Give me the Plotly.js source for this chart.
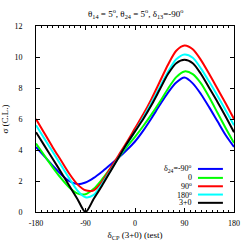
<!DOCTYPE html>
<html><head><meta charset="utf-8">
<script src="https://cdn.plot.ly/plotly-3.0.1.min.js"></script>
<style>html,body{margin:0;padding:0;background:#fff}#c{width:249px;height:249px}</style>
</head><body><div id="c"></div>
<script>
const deltaCP = [-180,-165,-150,-135,-120,-105,-90,-75,-60,-45,-30,-15,0,15,30,45,60,75,90,105,120,135,150,165,180];
const sigmaM90 = [4.2,3.6,3.0,2.45,2.0,1.8,1.9,2.2,2.6,3.05,3.5,4.0,4.55,5.25,6.05,6.9,7.7,8.35,8.67,8.3,7.6,6.75,5.85,4.95,4.2];
const sigma0   = [4.42,3.65,2.9,2.2,1.6,1.2,1.15,1.5,2.1,2.8,3.5,4.2,4.85,5.55,6.3,7.1,7.95,8.7,9.07,8.9,8.3,7.4,6.4,5.4,4.45];
const sigma90  = [6.0,5.1,4.2,3.35,2.5,1.8,1.4,1.4,1.95,2.8,3.65,4.5,5.4,6.3,7.3,8.4,9.5,10.4,10.74,10.5,9.8,8.9,7.95,7.0,6.0];
const sigma180 = [5.6,4.75,3.9,3.05,2.2,1.4,0.95,1.1,1.8,2.65,3.5,4.35,5.2,6.1,7.05,8.05,9.05,9.85,10.16,9.95,9.25,8.4,7.5,6.55,5.6];
const sigma30  = [5.15,4.3,3.45,2.6,1.72,0.86,0,0.85,1.7,2.6,3.5,4.4,5.2,6.0,6.9,7.9,8.9,9.6,9.82,9.6,8.9,8.0,7.1,6.15,5.15];
const seriesNames = ["δ<sub>24</sub>=-90<sup>o</sup>","0","90<sup>o</sup>","180<sup>o</sup>","3+0"];
const seriesColors = ["#0000ff","#00ff00","#ff0000","#00ffff","#000000"];
const seriesData = [sigmaM90, sigma0, sigma90, sigma180, sigma30];
const xTicks = [-180,-90,0,90,180];
const yTicks = [0,2,4,6,8,10,12];

const F = "Liberation Serif, Times New Roman, serif";
const traces = seriesData.map((y,i)=>({
  x: deltaCP, y: y, type:'scatter', mode:'lines', name: seriesNames[i],
  line:{color: seriesColors[i], width:2, shape:'spline', smoothing:0.8},
  showlegend:false, hoverinfo:'skip'
}));
const rows = [0.2316,0.1834,0.1383,0.0938,0.0493];
const annotations = [{
  text:"θ<sub>14</sub> = 5<sup>o</sup>, θ<sub>24</sub> = 5<sup>o</sup>, δ<sub>13</sub>=-90<sup>o</sup>",
  xref:'paper', yref:'paper', x:0.5, y:1.065, xanchor:'center', yanchor:'middle', showarrow:false,
  font:{family:F,size:9,color:'#000'}
}];
const shapes = [];
seriesNames.forEach((n,i)=>{
  annotations.push({text:n, xref:'paper', yref:'paper', x:0.798, y:rows[i], xanchor:'right', yanchor:'middle',
    showarrow:false, font:{family:F,size:8,color:'#000'}});
  shapes.push({type:'line', xref:'paper', yref:'paper', x0:0.818, x1:0.944, y0:rows[i], y1:rows[i],
    line:{color:seriesColors[i], width:2}});
});
const axBase = {showline:true, mirror:'allticks', linecolor:'#000', linewidth:1, ticks:'inside',
  tickcolor:'#000', zeroline:false, showgrid:false, tickfont:{family:F,size:8,color:'#000'}};
const layout = {
  width:249, height:249, margin:{l:36,r:15,t:26,b:36.5},
  paper_bgcolor:'#fff', plot_bgcolor:'#fff', showlegend:false,
  xaxis: Object.assign({}, axBase, {range:[-180,180], tickvals:xTicks, ticktext:xTicks.map(String),
    ticklen:4, ticklabelstandoff:3,
    minor:{dtick:10, ticks:'inside', ticklen:2, tickcolor:'#000', showgrid:false},
    title:{text:"δ<sub>CP</sub> (3+0) (test)", font:{family:F,size:9,color:'#000'}, standoff:5}}),
  yaxis: Object.assign({}, axBase, {range:[0,12], tickvals:yTicks, ticktext:yTicks.map(String),
    ticklen:4, ticklabelstandoff:11,
    title:{text:"σ (C.L.)", font:{family:F,size:9,color:'#000'}, standoff:4}}),
  annotations: annotations, shapes: shapes
};
Plotly.newPlot('c', traces, layout, {staticPlot:true, displayModeBar:false});
</script></body></html>
